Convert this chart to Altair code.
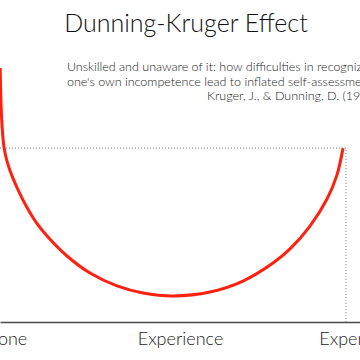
import altair as alt
import pandas as pd

# Curve (experience 0-100 across view, confidence 0-100)
experience = [0.06, 0.25, 0.58, 1.11, 2.08, 3.47, 5.28, 7.42, 10.19, 13.33, 18.61,
              25.0, 32.5, 39.72, 48.06, 58.33, 67.5, 75.83, 80.56, 86.11, 90.83,
              93.61, 95.28]
confidence = [78.9, 68.9, 60.9, 54.3, 49.4, 45.0, 40.4, 35.7, 30.7, 26.4, 20.5,
              15.2, 11.2, 9.0, 8.1, 9.3, 12.7, 18.3, 22.7, 29.8, 38.2,
              45.7, 54.0]

# Expert reference point (dotted guides)
guide_x = 96.1
guide_y = 54.0

tick_values = [1.5, 50, 95.6]
tick_labels = ["None", "Experience", "Expert"]

title_text = "Dunning-Kruger Effect"
subtitle_lines = [
    "Unskilled and unaware of it: how difficulties in recognizing",
    "one's own incompetence lead to inflated self-assessments",
    "Kruger, J., & Dunning, D. (1999)",
]

FONT = "Helvetica Neue, Lato, Roboto, Liberation Sans, sans-serif"

curve_df = pd.DataFrame({"experience": experience, "confidence": confidence})
hline_df = pd.DataFrame({"x0": [0.0], "x1": [guide_x], "y": [guide_y]})
vline_df = pd.DataFrame({"x": [guide_x], "y0": [0.0], "y1": [guide_y]})

label_map = " : ".join(
    f"datum.value == {v} ? '{l}'" for v, l in zip(tick_values, tick_labels)
) + " : ''"

xscale = alt.Scale(domain=[0, 100], nice=False, zero=False)
yscale = alt.Scale(domain=[0, 100], nice=False, zero=False)

x_axis = alt.Axis(
    values=tick_values,
    labelExpr=label_map,
    title=None,
    grid=False,
    ticks=False,
    domainColor="#4a4a4a",
    domainWidth=1.5,
    labelFont=FONT,
    labelFontWeight=300,
    labelFontSize=18,
    labelColor="#1a1a1a",
    labelPadding=8,
    labelOverlap=False,
    labelFlush=False,
    labelBound=False,
)

curve = alt.Chart(curve_df).mark_line(
    color="#ff200f", strokeWidth=3, interpolate="catmull-rom"
).encode(
    x=alt.X("experience:Q", scale=xscale, axis=x_axis),
    y=alt.Y("confidence:Q", scale=yscale, axis=None),
)

hline = alt.Chart(hline_df).mark_rule(
    color="#777777", strokeWidth=1, strokeDash=[1, 2]
).encode(
    x=alt.X("x0:Q", scale=xscale, axis=x_axis),
    x2="x1:Q",
    y=alt.Y("y:Q", scale=yscale, axis=None),
)

vline = alt.Chart(vline_df).mark_rule(
    color="#888888", strokeWidth=1, strokeDash=[1, 2]
).encode(
    x=alt.X("x:Q", scale=xscale, axis=x_axis),
    y=alt.Y("y0:Q", scale=yscale, axis=None),
    y2="y1:Q",
)

title = alt.Chart(pd.DataFrame({"t": [title_text]})).mark_text(
    font=FONT, fontSize=25, fontWeight=300, color="#111111",
    align="center", baseline="alphabetic"
).encode(text="t:N", x=alt.value(186), y=alt.value(32))

sub_layers = []
for i, line in enumerate(subtitle_lines):
    sub_layers.append(
        alt.Chart(pd.DataFrame({"t": [line]})).mark_text(
            font=FONT, fontSize=12.5, fontWeight=300, color="#1a1a1a",
            align="right", baseline="alphabetic"
        ).encode(text="t:N", x=alt.value(378), y=alt.value(71 + 14.5 * i))
    )

chart = alt.layer(hline, vline, curve, title, *sub_layers).properties(
    width=360,
    height=322,
    autosize=alt.AutoSizeParams(type="none"),
    padding={"left": 0, "top": 0, "right": 0, "bottom": 38},
).configure_view(strokeWidth=0)

chart.save("out.html", embed_options={"renderer": "svg", "actions": False})
